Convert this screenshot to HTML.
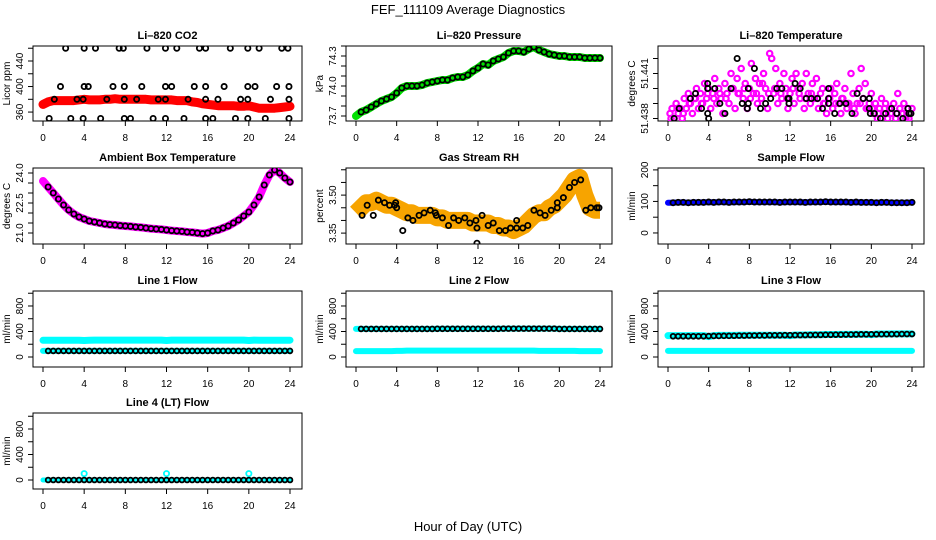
<!DOCTYPE html>
<html><head><meta charset="utf-8"><style>
html,body{margin:0;padding:0;background:#fff;}
svg{display:block;font-family:"Liberation Sans",sans-serif;}
</style></head><body>
<svg id="c" width="936" height="540" viewBox="0 0 936 540">
<text x="468" y="14" text-anchor="middle" font-size="13">FEF_111109  Average Diagnostics</text>
<text x="468" y="531" text-anchor="middle" font-size="13">Hour of Day (UTC)</text>
</svg>
<script>
// ---- data ----
const xTickVals = [0,4,8,12,16,20,24];
const halfHours = [0,0.5,1,1.5,2,2.5,3,3.5,4,4.5,5,5.5,6,6.5,7,7.5,8,8.5,9,9.5,10,10.5,11,11.5,12,12.5,13,13.5,14,14.5,15,15.5,16,16.5,17,17.5,18,18.5,19,19.5,20,20.5,21,21.5,22,22.5,23,23.5,24];

const co2Band = [372,376,378,378,378,378,378,379,380,379,379,379,380,380,381,380,380,380,380,380,380,379,379,379,379,379,378,378,378,376,375,373,372,371,370,370,370,370,369,369,370,368,366,366,366,366,367,368,369];
const co2PtX = [2.2,4,5.1,7.4,7.8,10.1,11.9,13,15.2,15.8,18.2,19.9,21,23.2,23.8, 1.7,4,4.4,6.8,7.9,9.6,11.9,12.5,14.7,15.8,17.6,19.9,20.6,22.7,23.9, 1.1,3.3,3.9,6.2,7.9,9.1,11.2,11.9,14.1,15.8,17,19.2,19.9,22.1,23.9, 0.6,2.7,3.9,5.6,7.9,8.5,10.7,11.9,13.7,15.8,16.5,18.7,19.9,21.6,23.9];
const co2PtY = [460,460,460,460,460,460,460,460,460,460,460,460,460,460,460, 400,400,400,400,400,400,400,400,400,400,400,400,400,400,400, 380,380,380,380,380,380,380,380,380,380,380,380,380,380,380, 350,350,350,350,350,350,350,350,350,350,350,350,350,350,350];

const pressBand = [73.70,73.74,73.76,73.79,73.82,73.85,73.87,73.89,73.93,73.98,74.00,74.00,74.00,74.01,74.03,74.04,74.05,74.06,74.06,74.08,74.09,74.09,74.11,74.15,74.18,74.22,74.21,74.25,74.27,74.29,74.33,74.35,74.35,74.34,74.37,74.39,74.36,74.34,74.32,74.31,74.30,74.30,74.29,74.29,74.29,74.28,74.28,74.28,74.28];

const tempPinkX = [0.2,0.4,0.6,0.8,1.0,1.2,1.4,1.6,1.8,2.0,2.2,2.4,2.6,2.8,3.0,3.2,3.4,3.6,3.8,4.0,4.2,4.4,4.6,4.8,5.0,5.2,5.4,5.6,5.8,6.0,6.2,6.4,6.6,6.8,7.0,7.2,7.4,7.6,7.8,8.0,8.2,8.4,8.6,8.8,9.0,9.2,9.4,9.6,9.8,10.0,10.2,10.4,10.6,10.8,11.0,11.2,11.4,11.6,11.8,12.0,12.2,12.4,12.6,12.8,13.0,13.2,13.4,13.6,13.8,14.0,14.2,14.4,14.6,14.8,15.0,15.2,15.4,15.6,15.8,16.0,16.2,16.4,16.6,16.8,17.0,17.2,17.4,17.6,17.8,18.0,18.2,18.4,18.6,18.8,19.0,19.2,19.4,19.6,19.8,20.0,20.2,20.4,20.6,20.8,21.0,21.2,21.4,21.6,21.8,22.0,22.2,22.4,22.6,22.8,23.0,23.2,23.4,23.6,23.8,24.0, 0.3,0.9,1.5,2.1,2.7,3.3,3.9,4.5,5.1,5.7,6.3,6.9,7.5,8.1,8.7,9.3,9.9,10.5,11.1,11.7,12.3,12.9,13.5,14.1,14.7,15.3,15.9,16.5,17.1,17.7,18.3,18.9,19.5,20.1,20.7,21.3,21.9,22.5,23.1,23.7];
const tempPinkStep = [1,2,0,3,1,2,0,4,2,5,3,1,4,6,2,5,3,7,4,6,2,5,8,3,6,4,1,7,5,3,9,6,2,8,5,10,4,7,2,6,11,5,8,3,7,4,9,6,2,13,12,5,10,3,7,4,9,6,2,5,8,3,9,6,4,7,2,9,5,3,7,4,8,2,5,6,3,1,4,6,2,5,7,3,1,4,6,2,3,9,5,1,3,6,10,4,7,2,3,5,1,3,0,2,4,1,3,0,2,1,3,0,5,2,1,3,0,2,1,2, 0,2,1,3,4,3,5,4,5,4,6,5,6,4,5,7,5,6,5,4,6,5,4,5,4,3,4,3,4,3,2,3,2,2,1,2,1,1,1,0];
const tempBlackX = [0.6,1.1,2.2,2.7,3.3,3.9,3.9,3.9,4,4.6,5.1,5.6,6.2,6.8,7.3,7.8,7.9,7.9,8.5,9.1,9.6,10.1,10.7,11.2,11.8,11.9,11.9,12.5,13,13.6,14.1,14.7,15.2,15.8,15.8,15.8,16.4,16.9,17.5,18.1,18.6,19.2,19.8,19.8,19.9,20.3,20.9,21.4,22,22.5,23.1,23.6,23.7,23.9];
const tempBlackStep = [0,2,4,5,2,7,6,1,0,6,3,1,6,12,3,2,6,3,10,2,3,4,6,6,4,3,4,7,6,4,4,4,2,6,4,3,1,3,3,1,5,4,4,2,1,1,0,1,2,1,0,2,1,1];

const ambBand = [23.6,23.3,23.0,22.7,22.4,22.15,21.95,21.8,21.7,21.6,21.55,21.5,21.45,21.42,21.4,21.37,21.35,21.33,21.3,21.28,21.25,21.22,21.2,21.18,21.15,21.12,21.1,21.08,21.05,21.03,21.0,20.97,21.0,21.1,21.15,21.25,21.35,21.5,21.65,21.85,22.05,22.4,22.8,23.4,23.9,24.15,24.0,23.75,23.55];

const rhBand = [3.43,3.45,3.47,3.47,3.48,3.47,3.46,3.46,3.45,3.44,3.43,3.43,3.42,3.42,3.42,3.42,3.41,3.41,3.40,3.40,3.40,3.40,3.40,3.39,3.39,3.39,3.39,3.38,3.38,3.37,3.37,3.36,3.37,3.38,3.40,3.42,3.43,3.43,3.45,3.46,3.48,3.50,3.53,3.56,3.57,3.50,3.45,3.44,3.44];
const rhPtX = [0.6,1.1,1.7,2.2,2.8,3.3,3.8,3.9,4,4.6,5.1,5.6,6.2,6.7,7.3,7.8,7.9,8.5,9.1,9.6,10.1,10.7,11.2,11.8,11.9,11.9,12.4,13,13.5,14.1,14.7,15.2,15.8,15.8,16.4,16.9,17.5,18.1,18.6,19.2,19.8,19.8,20.4,21,21.5,22.1,22.6,23.1,23.7,23.9];
const rhPtY = [3.42,3.46,3.42,3.48,3.47,3.46,3.46,3.47,3.45,3.36,3.41,3.40,3.42,3.43,3.44,3.43,3.42,3.41,3.38,3.41,3.40,3.41,3.39,3.40,3.37,3.31,3.42,3.38,3.39,3.36,3.36,3.37,3.40,3.37,3.37,3.38,3.44,3.43,3.42,3.44,3.47,3.45,3.49,3.53,3.55,3.56,3.44,3.45,3.45,3.45];

const sampleBand = [96,96,97,97,96,97,97,97,98,97,98,98,97,98,98,98,99,98,98,98,98,98,97,98,98,98,98,97,98,98,98,99,98,98,98,98,97,98,97,97,97,96,97,97,96,96,96,96,97];

const line1Cyan = [262,262,263,263,264,264,264,264,258,264,265,265,265,265,265,265,265,265,265,265,265,265,265,265,258,265,265,265,265,265,265,265,265,265,265,265,265,265,265,265,258,265,264,264,262,262,263,264,264];
const line1Black = [95,95,95,95,95,95,95,95,95,95,95,95,95,95,95,95,95,95,95,95,95,95,95,95,95,95,95,95,95,95,95,95,95,95,95,95,95,95,95,95,95,95,95,95,95,95,95,95,95];
const line2Black = [440,440,440,440,440,440,440,440,440,440,440,440,440,440,440,440,442,442,442,442,442,442,442,442,442,442,442,442,442,445,445,445,445,445,445,445,445,445,445,445,440,440,440,440,440,440,440,440,440];
const line2Cyan = [92,92,92,92,92,92,92,92,95,95,100,100,100,100,100,100,100,100,100,100,100,100,100,100,100,100,100,100,100,100,100,100,100,100,100,100,95,95,95,95,95,95,95,95,92,92,92,92,92];
const line3Upper = [335,335,335,335,335,335,335,335,320,335,338,338,338,338,340,340,340,340,340,340,342,342,342,342,335,345,345,345,348,350,350,352,352,352,355,355,355,358,358,358,350,360,360,360,362,362,362,362,362];
const line3Black = [325,325,325,325,325,325,325,325,328,330,330,332,332,333,335,335,337,337,338,338,340,340,340,342,342,343,343,344,345,346,347,348,348,350,350,352,352,353,355,355,356,356,357,357,358,358,360,360,360];
const line3Lower = [95,95,95,95,95,95,95,95,95,95,95,95,95,95,95,95,95,95,95,95,95,95,95,95,95,95,95,95,95,95,95,95,95,95,95,95,95,95,95,95,95,95,95,95,95,95,95,95,95];
const line4Black = [0,0,0,0,0,0,0,0,0,0,0,0,0,0,0,0,0,0,0,0,0,0,0,0,0,0,0,0,0,0,0,0,0,0,0,0,0,0,0,0,0,0,0,0,0,0,0,0,0];
const line4SpikeX = [4,12,20];
const line4SpikeY = [100,100,100];

// tick arrays
const co2Ticks=[360,380,400,420,440,460], co2Labels=[[360,'360'],[400,'400'],[440,'440']];
const pressTicks=[73.7,73.8,73.9,74.0,74.1,74.2,74.3,74.4], pressLabels=[[73.7,'73.7'],[74.0,'74.0'],[74.3,'74.3']];
const tempTicks=[0,3,6,9,12], tempLabels=[[0,'51.438'],[9,'51.441']];
const ambTicks=[21,21.5,22,22.5,23,23.5,24], ambLabels=[[21,'21.0'],[22.5,'22.5'],[24,'24.0']];
const rhTicks=[3.35,3.40,3.45,3.50,3.55,3.60], rhLabels=[[3.35,'3.35'],[3.50,'3.50']];
const sfTicks=[0,50,100,150,200], sfLabels=[[0,'0'],[100,'100'],[200,'200']];
const flowTicks=[0,200,400,600,800,1000], flowLabels=[[0,'0'],[400,'400'],[800,'800']];

// ---- drawing ----
const svg=document.getElementById('c');
const NS='http://www.w3.org/2000/svg';
const cols=[[33,302],[346,612],[658,924]];
const rows=[[46,121],[168,244],[291,367],[413,489]];
function mk(tag,attrs,parent){const e=document.createElementNS(NS,tag);for(const k in attrs)e.setAttribute(k,attrs[k]);(parent||svg).appendChild(e);return e;}

function panel(ci,ri,name,title,ylab,ymin,ymax,ticks,labels){
  const [bx0,bx1]=cols[ci],[by0,by1]=rows[ri];
  const g=mk('g',{});
  
  
  const x0=bx0+10,x1=bx1-12;
  const sx=v=>x0+(x1-x0)*v/24;
  const sy=v=>by1-(by1-by0)*(v-ymin)/(ymax-ymin);
  const t=mk('text',{x:(bx0+bx1)/2,y:by0-7,'text-anchor':'middle','font-size':11,'font-weight':'bold'},g);
  t.textContent=title;
  
  
  const clipId='clip-'+name;
  const cp=mk('clipPath',{id:clipId},g);
  mk('rect',{x:bx0,y:by0,width:bx1-bx0,height:by1-by0},cp);
  const box=mk('rect',{x:bx0,y:by0,width:bx1-bx0,height:by1-by0,fill:'none',stroke:'#000','stroke-width':1},g);
  
  
  const xa=mk('g',{},g);
  
  
  xTickVals.forEach(v=>{
    mk('line',{x1:sx(v),x2:sx(v),y1:by1,y2:by1+5,stroke:'#000'},xa);
    const l=mk('text',{x:sx(v),y:by1+20,'text-anchor':'middle','font-size':10},xa);l.textContent=v;
  });
  const ya=mk('g',{},g);
  
  
  ticks.forEach(v=>{mk('line',{x1:bx0-5,x2:bx0,y1:sy(v),y2:sy(v),stroke:'#000'},ya);});
  labels.forEach(([v,s])=>{
    const X=bx0-10,Y=sy(v);
    const l=mk('text',{x:X,y:Y,'text-anchor':'middle','font-size':10,transform:`rotate(-90 ${X} ${Y})`},ya);l.textContent=s;
  });
  const YL=bx0-23,YY=(by0+by1)/2;
  const yl=mk('text',{x:YL,y:YY,'text-anchor':'middle','font-size':10,transform:`rotate(-90 ${YL} ${YY})`},g);
  yl.textContent=ylab;
  
  
  const data=mk('g',{'clip-path':`url(#${clipId})`},g);
  
  
  return {g:data,sx,sy};
}
function band(p,xs,ys,color,w,name,cap){
  const pts=xs.map((x,i)=>p.sx(x).toFixed(1)+','+p.sy(ys[i]).toFixed(1)).join(' ');
  const pl=mk('polyline',{points:pts,fill:'none',stroke:color,'stroke-width':w,'stroke-linejoin':'round','stroke-linecap':cap||'round'},p.g);
  
  
}
function pts(p,xs,ys,color,r,name,sw){
  const g=mk('g',{},p.g);
  
  
  xs.forEach((x,i)=>{mk('circle',{cx:p.sx(x),cy:p.sy(ys[i]),r:r,fill:'none',stroke:color,'stroke-width':sw||1.8},g);});
}
const blackX=halfHours.slice(1);

let p;
p=panel(0,0,'co2','Li\u2013820 CO2','Licor ppm',346,463.5,co2Ticks,co2Labels);
band(p,halfHours,co2Band,'#ff0000',9,'co2-red-series');
pts(p,co2PtX,co2PtY,'#000',2.6,'co2-black-points');

p=panel(1,0,'pressure','Li\u2013820 Pressure','kPa',73.65,74.4,pressTicks,pressLabels);
band(p,halfHours,pressBand,'#00e000',8,'pressure-green-series');
pts(p,blackX,pressBand.slice(1),'#000',2.6,'pressure-black-points');

p=panel(2,0,'li820-temp','Li\u2013820 Temperature','degrees C',-0.5,14.5,tempTicks,tempLabels);
pts(p,tempPinkX,tempPinkStep,'#ff00ff',2.7,'temp-magenta-points',2.2);
pts(p,tempBlackX,tempBlackStep,'#000',2.6,'temp-black-points');

p=panel(0,1,'ambient','Ambient Box Temperature','degrees C',20.45,24.25,ambTicks,ambLabels);
band(p,halfHours,ambBand,'#ff00ff',8,'ambient-magenta-series');
pts(p,blackX,ambBand.slice(1),'#000',2.6,'ambient-black-points');

p=panel(1,1,'rh','Gas Stream RH','percent',3.307,3.607,rhTicks,rhLabels);
band(p,halfHours,rhBand,'#f7a400',17,'rh-orange-series','butt');
pts(p,rhPtX,rhPtY,'#000',2.6,'rh-black-points');

p=panel(2,1,'sample-flow','Sample Flow','ml/min',-35,206,sfTicks,sfLabels);
band(p,halfHours,sampleBand,'#0000ff',6,'sample-blue-series');
pts(p,blackX,sampleBand.slice(1),'#000',2.6,'sample-black-points');

p=panel(0,2,'line1','Line 1 Flow','ml/min',-157,1035,flowTicks,flowLabels);
band(p,halfHours,line1Cyan,'#00ffff',7,'line1-cyan-series');
band(p,halfHours,line1Black,'#00ffff',6,'line1-cyan-low-series');
pts(p,blackX,line1Black.slice(1),'#000',2.4,'line1-black-points');

p=panel(1,2,'line2','Line 2 Flow','ml/min',-157,1035,flowTicks,flowLabels);
band(p,halfHours,line2Black,'#00ffff',6,'line2-cyan-high-series');
band(p,halfHours,line2Cyan,'#00ffff',6,'line2-cyan-series');
pts(p,blackX,line2Black.slice(1),'#000',2.4,'line2-black-points');

p=panel(2,2,'line3','Line 3 Flow','ml/min',-157,1035,flowTicks,flowLabels);
band(p,halfHours,line3Upper,'#00ffff',7,'line3-cyan-upper-series');
band(p,halfHours,line3Lower,'#00ffff',6,'line3-cyan-lower-series');
pts(p,blackX,line3Black.slice(1),'#000',2.4,'line3-black-points');

p=panel(0,3,'line4','Line 4 (LT) Flow','ml/min',-141,1051,flowTicks,flowLabels);
band(p,halfHours,line4Black,'#00ffff',5,'line4-cyan-series');
pts(p,line4SpikeX,line4SpikeY,'#00ffff',2.6,'line4-cyan-spikes',1.8);
pts(p,blackX,line4Black.slice(1),'#000',2.4,'line4-black-points');
</script>
</body></html>
